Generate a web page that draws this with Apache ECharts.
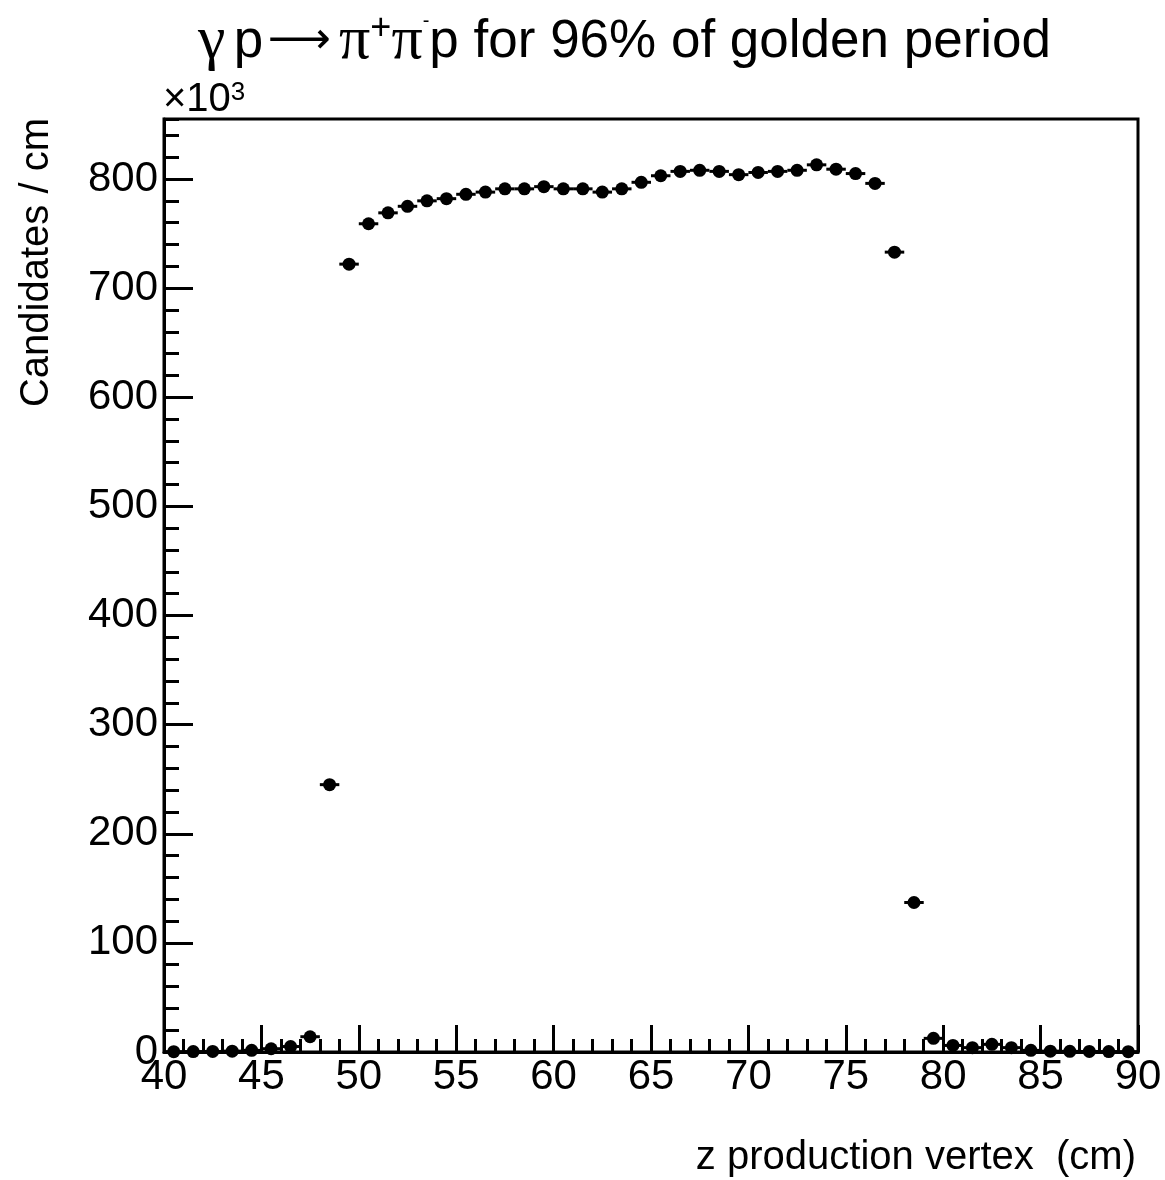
<!DOCTYPE html>
<html>
<head>
<meta charset="utf-8">
<script src="https://cdn.jsdelivr.net/npm/echarts@6/dist/echarts.min.js"></script>
<style>
  html, body { margin: 0; padding: 0; background: #fff; }
  #chart { width: 1165px; height: 1180px; }
</style>
</head>
<body>
<div id="chart"></div>
<script>
// bin centres (cm), 1 cm bins
const binCenters = [
  40.5, 41.5, 42.5, 43.5, 44.5, 45.5, 46.5, 47.5, 48.5, 49.5,
  50.5, 51.5, 52.5, 53.5, 54.5, 55.5, 56.5, 57.5, 58.5, 59.5,
  60.5, 61.5, 62.5, 63.5, 64.5, 65.5, 66.5, 67.5, 68.5, 69.5,
  70.5, 71.5, 72.5, 73.5, 74.5, 75.5, 76.5, 77.5, 78.5, 79.5,
  80.5, 81.5, 82.5, 83.5, 84.5, 85.5, 86.5, 87.5, 88.5, 89.5
]
const binHalfWidth = 0.5

// candidates per cm, in units of 10^3
const counts = [
  0.3, 0.4, 0.5, 0.8, 1.5, 3, 5, 14, 245, 722,
  759, 769, 775, 780, 782, 786, 788, 791, 791, 793,
  791, 791, 788, 791, 797, 803, 807, 808, 807, 804,
  806, 807, 808, 813, 809, 805, 796, 733, 137, 12.5,
  6, 4, 7, 4, 1.5, 0.8, 0.6, 0.5, 0.4, 0.3
]

const xTicks = { min: 40, max: 90, interval: 5 }
const yTicks = { min: 0, max: 855, interval: 100, minor: 20 }

const FONT = 'Liberation Sans'
const points = binCenters.map((x, i) => [x, counts[i]])

const chart = echarts.init(document.getElementById('chart'))

chart.setOption({
  animation: false,
  backgroundColor: '#fff',
  title: {
    text: '{g|γ}{s| }p{t| }{arr|⟶}{s| }{g|π}{sp|+}{g|π}{sm|-}p for 96% of golden period',
    left: 198,
    top: 11,
    padding: 0,
    textStyle: {
      fontFamily: FONT,
      fontSize: 53,
      fontWeight: 'normal',
      color: '#000',
      rich: {
        g: { fontFamily: 'Liberation Serif', fontSize: 62, color: '#000' },
        s: { fontFamily: FONT, fontSize: 30, color: '#000' },
        t: { fontFamily: FONT, fontSize: 16, color: '#000' },
        arr: { fontFamily: 'DejaVu Sans', fontSize: 44, color: '#000' },
        sp: { fontFamily: FONT, fontSize: 36, lineHeight: 48, color: '#000', verticalAlign: 'top' },
        sm: { fontFamily: FONT, fontSize: 20, color: '#000', verticalAlign: 'top' }
      }
    }
  },
  grid: {
    left: 164,
    right: 27,
    top: 119,
    bottom: 128,
    show: true,
    borderColor: '#000',
    borderWidth: 3
  },
  xAxis: {
    type: 'value',
    min: xTicks.min,
    max: xTicks.max,
    interval: xTicks.interval,
    axisLine: { lineStyle: { color: '#000', width: 3 } },
    axisTick: { inside: true, length: 27, lineStyle: { color: '#000', width: 3 } },
    minorTick: { show: true, splitNumber: 5, length: 13, lineStyle: { color: '#000', width: 3 } },
    axisLabel: { color: '#000', fontFamily: FONT, fontSize: 42, margin: 4 },
    splitLine: { show: false }
  },
  yAxis: [
    {
      type: 'value',
      position: 'left',
      min: yTicks.min,
      max: yTicks.max,
      interval: yTicks.interval,
      axisLine: { show: true, lineStyle: { color: '#000', width: 3 } },
      axisTick: { inside: true, length: 29, lineStyle: { color: '#000', width: 3 } },
      axisLabel: {
        color: '#000',
        fontFamily: FONT,
        fontSize: 42,
        margin: 6,
        showMaxLabel: false,
        formatter: v => (v % 100 === 0 ? String(v) : '')
      },
      splitLine: { show: false }
    },
    {
      // minor ticks every 20
      type: 'value',
      position: 'left',
      offset: 0,
      min: yTicks.min,
      max: yTicks.max,
      interval: yTicks.minor,
      axisLine: { show: false },
      axisTick: { inside: true, length: 15, lineStyle: { color: '#000', width: 3 } },
      axisLabel: { show: false },
      splitLine: { show: false }
    }
  ],
  graphic: [
    {
      type: 'text',
      x: 163,
      y: 80,
      style: {
        text: '{a|×10}{b|3}',
        fill: '#000',
        rich: {
          a: { fontFamily: FONT, fontSize: 40, fill: '#000' },
          b: { fontFamily: FONT, fontSize: 26, fill: '#000', verticalAlign: 'top' }
        }
      }
    },
    {
      type: 'text',
      x: 37,
      y: 118,
      rotation: Math.PI / 2,
      style: {
        text: 'Candidates / cm',
        fontFamily: FONT,
        fontSize: 40,
        fill: '#000',
        align: 'right',
        verticalAlign: 'middle'
      }
    },
    {
      type: 'text',
      x: 1136,
      y: 1158,
      style: {
        text: 'z production vertex  (cm)',
        fontFamily: FONT,
        fontSize: 40,
        fill: '#000',
        align: 'right',
        verticalAlign: 'middle'
      }
    }
  ],
  series: [
    {
      type: 'custom',
      clip: false,
      data: points,
      encode: { x: 0, y: 1 },
      renderItem (params, api) {
        const x = api.value(0)
        const y = api.value(1)
        const a = api.coord([x - binHalfWidth, y])
        const b = api.coord([x + binHalfWidth, y])
        return {
          type: 'line',
          shape: { x1: a[0], y1: a[1], x2: b[0], y2: b[1] },
          style: { stroke: '#000', lineWidth: 3 }
        }
      }
    },
    {
      type: 'scatter',
      clip: false,
      symbol: 'circle',
      symbolSize: 13,
      itemStyle: { color: '#000', opacity: 1 },
      data: points
    }
  ]
})
</script>
</body>
</html>
